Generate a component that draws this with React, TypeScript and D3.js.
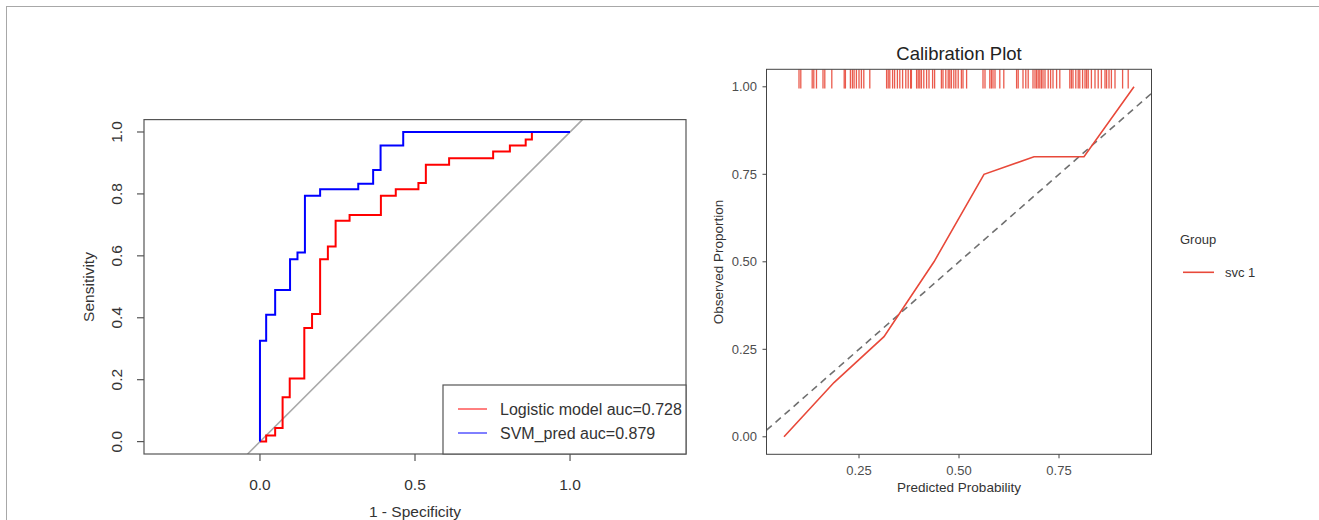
import React from "react";
import * as d3 from "d3";

// ---------- ROC data (1 - specificity, sensitivity) ----------
const svmFpr = [0, 0, 0.02, 0.049, 0.097, 0.121, 0.145, 0.194, 0.317, 0.365, 0.389, 0.462, 1.0];
const svmTpr = [0, 0.326, 0.41, 0.49, 0.589, 0.611, 0.794, 0.815, 0.833, 0.877, 0.956, 1.0, 1.0];

const logFpr = [0, 0.02, 0.049, 0.073, 0.096, 0.143, 0.168, 0.194, 0.219, 0.244, 0.289, 0.39, 0.438, 0.511, 0.535, 0.61, 0.752, 0.806, 0.857, 0.877, 1.0];
const logTpr = [0, 0.02, 0.044, 0.143, 0.204, 0.367, 0.412, 0.589, 0.63, 0.713, 0.732, 0.794, 0.815, 0.835, 0.894, 0.915, 0.937, 0.956, 0.976, 1.0, 1.0];

const rocTicks = [0, 0.2, 0.4, 0.6, 0.8, 1.0];
const rocXTicks = [0, 0.5, 1.0];
const rocLegend = ["Logistic model auc=0.728", "SVM_pred auc=0.879"];

// ---------- Calibration data ----------
const calX = [0.0625, 0.1875, 0.3125, 0.4375, 0.5625, 0.6875, 0.8125, 0.9375];
const calY = [0, 0.155, 0.286, 0.5, 0.75, 0.8, 0.8, 1.0];
const rugX = [
  0.100, 0.1045, 0.133, 0.137, 0.1437, 0.160, 0.1645, 0.182, 0.213, 0.216, 0.2285, 0.2335, 0.2377, 0.2435,
  0.250, 0.256, 0.262, 0.277, 0.319, 0.323, 0.327, 0.334, 0.339, 0.346, 0.352, 0.359, 0.367, 0.373, 0.379,
  0.381, 0.394, 0.398, 0.402, 0.406, 0.412, 0.419, 0.425, 0.434, 0.439, 0.456, 0.460, 0.467, 0.473, 0.477,
  0.481, 0.487, 0.492, 0.498, 0.506, 0.510, 0.519, 0.560, 0.565, 0.577, 0.581, 0.585, 0.590, 0.602, 0.612,
  0.644, 0.648, 0.660, 0.667, 0.673, 0.685, 0.690, 0.694, 0.698, 0.702, 0.706, 0.710, 0.715, 0.723, 0.729,
  0.735, 0.744, 0.752, 0.777, 0.781, 0.785, 0.792, 0.798, 0.802, 0.809, 0.815, 0.819, 0.823, 0.831, 0.840,
  0.848, 0.856, 0.865, 0.869, 0.875, 0.881, 0.890, 0.909, 0.923,
];
const calTicks = [0, 0.25, 0.5, 0.75, 1.0];
const calXTicks = [0.25, 0.5, 0.75];
const calGroup = "svc 1";

const FONT = "'Liberation Sans', Arial, Helvetica, sans-serif";
const CAL_RED = "#E8493A";

export default function App() {
  // Left (ROC) scales
  const xL = d3.scaleLinear().domain([-0.374, 1.374]).range([144, 686]);
  const yL = d3.scaleLinear().domain([-0.04, 1.04]).range([454, 119.6]);
  const stepLine = d3
    .line<[number, number]>()
    .x((d) => xL(d[0]))
    .y((d) => yL(d[1]))
    .curve(d3.curveStepAfter);
  const svmPath = stepLine(svmFpr.map((f, i) => [f, svmTpr[i]] as [number, number])) || "";
  const logPath = stepLine(logFpr.map((f, i) => [f, logTpr[i]] as [number, number])) || "";
  const [ly0, ly1] = yL.domain();

  // Right (calibration) scales
  const ext = d3.extent(calX) as [number, number];
  const pad = (ext[1] - ext[0]) * 0.05;
  const xR = d3.scaleLinear().domain([ext[0] - pad, ext[1] + pad]).range([766.5, 1151.5]);
  const yR = d3.scaleLinear().domain([-0.05, 1.05]).range([454.3, 69.3]);
  const calLine = d3
    .line<number>()
    .x((d, i) => xR(calX[i]))
    .y((d) => yR(d));
  const calPath = calLine(calY) || "";
  const [rx0, rx1] = xR.domain();

  return (
    <svg
      width={1319}
      height={520}
      style={{ position: "absolute", left: 0, top: 0, background: "#fff" }}
      fontFamily={FONT}
    >
      <rect x={0} y={0} width={1319} height={520} fill="#fff" />
      {/* outer frame (top/left visible) */}
      <rect x={6.5} y={6.5} width={1340} height={540} fill="none" stroke="#a8a8a8" strokeWidth={1} />

      {/* ================= ROC ================= */}
      <defs>
        <clipPath id="rocClip">
          <rect x={144} y={119.6} width={542} height={334.4} />
        </clipPath>
        <clipPath id="calClip">
          <rect x={766.5} y={69.3} width={385} height={385} />
        </clipPath>
      </defs>
      <g clipPath="url(#rocClip)">
        <line
          x1={xL(ly0)}
          y1={yL(ly0)}
          x2={xL(ly1)}
          y2={yL(ly1)}
          stroke="#a9a9a9"
          strokeWidth={1.6}
        />
        <path d={logPath} fill="none" stroke="#ff0000" strokeWidth={2} />
        <path d={svmPath} fill="none" stroke="#0000ff" strokeWidth={2} />
      </g>
      <rect x={144} y={119.6} width={542} height={334.4} fill="none" stroke="#555" strokeWidth={1.2} />
      {rocTicks.map((t) => (
        <g key={"ly" + t}>
          <line x1={137} x2={144} y1={yL(t)} y2={yL(t)} stroke="#555" strokeWidth={1.2} />
          <text
            transform={`translate(122,${yL(t)}) rotate(-90)`}
            textAnchor="middle"
            fontSize={15.5}
            fill="#333"
          >
            {t.toFixed(1)}
          </text>
        </g>
      ))}
      {rocXTicks.map((t) => (
        <g key={"lx" + t}>
          <line x1={xL(t)} x2={xL(t)} y1={454} y2={461} stroke="#555" strokeWidth={1.2} />
          <text x={xL(t)} y={490} textAnchor="middle" fontSize={15.5} fill="#333">
            {t.toFixed(1)}
          </text>
        </g>
      ))}
      <text transform="translate(94,287) rotate(-90)" textAnchor="middle" fontSize={15.5} fill="#333">
        Sensitivity
      </text>
      <text x={415} y={517} textAnchor="middle" fontSize={15.5} fill="#333">
        1 - Specificity
      </text>
      {/* legend */}
      <rect x={443} y={385} width={243} height={69} fill="#fff" stroke="#555" strokeWidth={1.2} />
      {rocLegend.map((lab, i) => (
        <g key={lab}>
          <line
            x1={458}
            x2={487}
            y1={409 + i * 24}
            y2={409 + i * 24}
            stroke={i === 0 ? "#ff0000" : "#0000ff"}
            strokeWidth={1}
          />
          <text x={500} y={414.5 + i * 24} fontSize={16} fill="#333">
            {lab}
          </text>
        </g>
      ))}

      {/* ================= Calibration ================= */}
      <text x={959} y={60} textAnchor="middle" fontSize={18.5} fill="#222">
        Calibration Plot
      </text>
      <g clipPath="url(#calClip)">
        <line
          x1={xR(rx0)}
          y1={yR(rx0)}
          x2={xR(rx1)}
          y2={yR(rx1)}
          stroke="#707070"
          strokeWidth={1.6}
          strokeDasharray="7,5"
        />
        <path d={calPath} fill="none" stroke={CAL_RED} strokeWidth={1.6} />
        {rugX.map((r, i) => (
          <line
            key={"rug" + i}
            x1={xR(r)}
            x2={xR(r)}
            y1={yR(0.995)}
            y2={yR(1.05)}
            stroke={CAL_RED}
            strokeWidth={1.3}
            opacity={0.9}
          />
        ))}
      </g>
      <rect x={766.5} y={69.3} width={385} height={385} fill="none" stroke="#444" strokeWidth={1} />
      {calTicks.map((t) => (
        <g key={"ry" + t}>
          <line x1={762.5} x2={766.5} y1={yR(t)} y2={yR(t)} stroke="#444" strokeWidth={1} />
          <text x={757} y={yR(t) + 4.5} textAnchor="end" fontSize={13} fill="#4d4d4d">
            {t.toFixed(2)}
          </text>
        </g>
      ))}
      {calXTicks.map((t) => (
        <g key={"rx" + t}>
          <line x1={xR(t)} x2={xR(t)} y1={454.3} y2={458.3} stroke="#444" strokeWidth={1} />
          <text x={xR(t)} y={475} textAnchor="middle" fontSize={13} fill="#4d4d4d">
            {t.toFixed(2)}
          </text>
        </g>
      ))}
      <text x={959} y={491.5} textAnchor="middle" fontSize={13.5} fill="#333">
        Predicted Probability
      </text>
      <text transform="translate(723,262) rotate(-90)" textAnchor="middle" fontSize={13.5} fill="#333">
        Observed Proportion
      </text>
      {/* legend */}
      <text x={1180} y={244} fontSize={13} fill="#333">
        Group
      </text>
      <line x1={1183} x2={1214} y1={272.3} y2={272.3} stroke={CAL_RED} strokeWidth={1.6} />
      <text x={1225} y={277} fontSize={13} fill="#333">
        {calGroup}
      </text>
    </svg>
  );
}
